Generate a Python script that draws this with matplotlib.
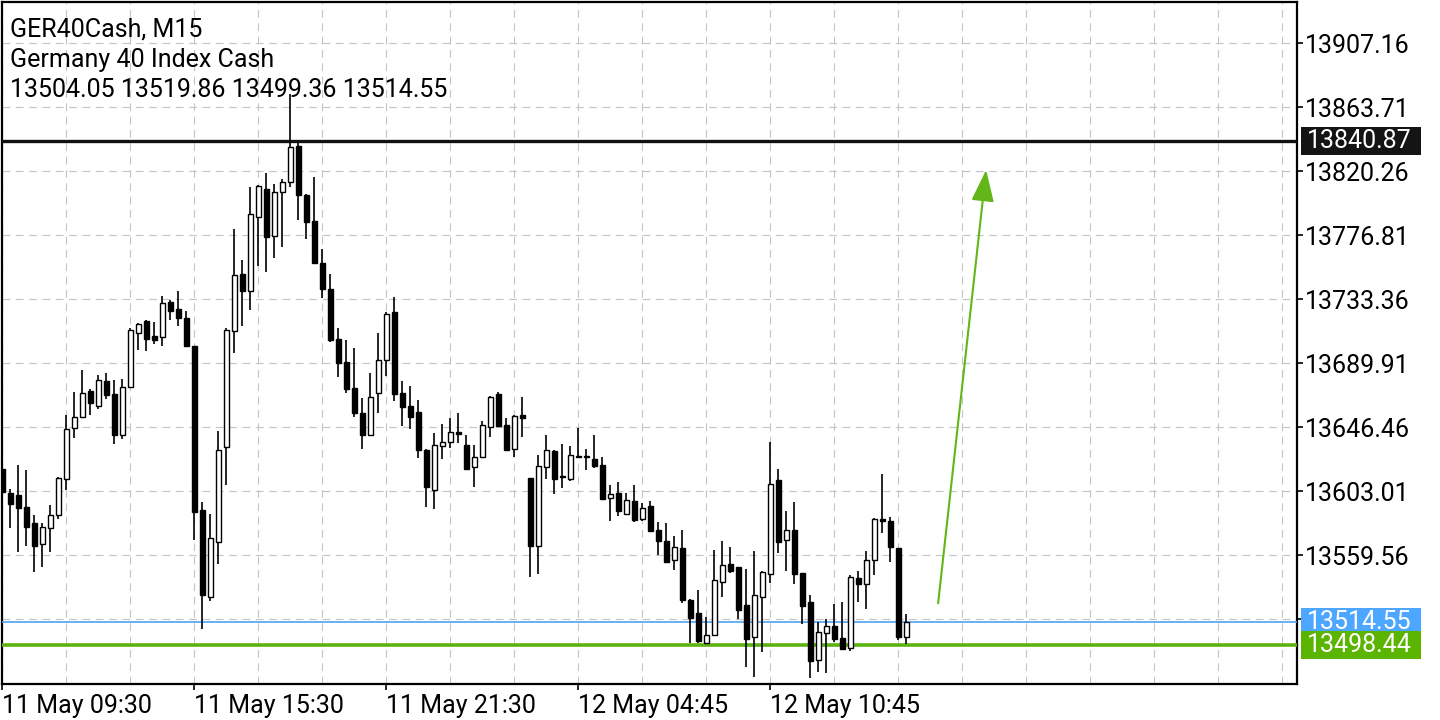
import matplotlib
matplotlib.use("Agg")
import matplotlib.pyplot as plt
from matplotlib.patches import Rectangle
import numpy as np

plt.rcParams["font.family"] = ["Roboto", "DejaVu Sans"]

# GER40Cash M15 candles (open, high, low, close)
opens = [13618.2, 13601.7, 13600.3, 13592.2, 13581.3, 13567.0, 13577.9, 13586.7, 13611.2, 13646.0,
         13653.7, 13670.9, 13661.1, 13677.7, 13668.9, 13641.0, 13673.8, 13710.3, 13718.4, 13708.4,
         13707.7, 13731.5, 13727.1, 13720.5, 13701.6, 13590.1, 13531.4, 13568.5, 13633.2, 13711.6,
         13750.3, 13739.2, 13789.4, 13808.0, 13776.1, 13806.3, 13812.7, 13837.4, 13804.2, 13786.5,
         13757.8, 13740.2, 13706.2, 13690.8, 13672.9, 13656.0, 13641.0, 13669.5, 13692.0, 13724.5,
         13669.5, 13660.9, 13656.6, 13631.3, 13603.7, 13634.0, 13636.7, 13643.5, 13634.2, 13619.3,
         13626.5, 13646.9, 13668.9, 13647.8, 13631.5, 13655.0, 13611.8, 13565.9, 13619.7, 13630.6,
         13613.2, 13611.6, 13627.2, 13626.8, 13625.2, 13620.9, 13598.5, 13601.9, 13587.4, 13596.4,
         13584.4, 13592.8, 13576.5, 13569.3, 13556.2, 13564.5, 13529.2, 13520.4, 13500.2, 13505.7,
         13541.2, 13553.5, 13551.4, 13525.6, 13504.1, 13531.1, 13546.9, 13610.5, 13570.0, 13576.7,
         13547.3, 13527.7, 13488.5, 13506.6, 13511.4, 13503.2, 13496.4, 13544.0, 13539.9, 13556.4,
         13584.2, 13582.6, 13564.5, 13504.05]
highs = [13620.2, 13604.4, 13620.7, 13617.3, 13586.7, 13581.3, 13593.5, 13612.9, 13654.6, 13670.2,
         13685.4, 13672.5, 13681.8, 13683.1, 13678.6, 13679.1, 13713.7, 13717.5, 13719.0, 13717.9,
         13735.5, 13732.6, 13738.7, 13725.2, 13701.9, 13595.7, 13587.4, 13643.9, 13713.7, 13781.4,
         13759.8, 13809.5, 13811.2, 13819.2, 13811.9, 13814.8, 13873.0, 13839.3, 13805.1, 13816.6,
         13767.7, 13750.5, 13713.7, 13705.5, 13700.1, 13666.2, 13683.1, 13710.5, 13724.5, 13734.7,
         13677.7, 13674.3, 13664.8, 13631.5, 13642.4, 13648.5, 13652.6, 13656.0, 13641.0, 13634.2,
         13650.5, 13667.7, 13670.2, 13652.6, 13655.0, 13666.8, 13611.8, 13627.5, 13641.0, 13631.1,
         13635.1, 13633.6, 13645.8, 13631.5, 13641.2, 13626.1, 13607.1, 13609.3, 13601.7, 13607.3,
         13594.9, 13596.4, 13582.2, 13581.3, 13572.7, 13576.7, 13529.9, 13535.8, 13517.7, 13563.2,
         13569.3, 13565.2, 13551.6, 13550.3, 13562.5, 13548.9, 13636.5, 13618.2, 13589.6, 13595.8,
         13547.3, 13532.6, 13514.3, 13516.1, 13526.5, 13527.9, 13546.2, 13548.9, 13562.5, 13585.0,
         13614.8, 13585.4, 13564.5, 13519.86]
lows = [13597.1, 13577.9, 13561.6, 13566.1, 13548.4, 13551.4, 13561.6, 13584.0, 13604.1, 13639.4,
        13652.6, 13655.0, 13659.1, 13665.9, 13634.9, 13638.7, 13673.8, 13698.7, 13698.1, 13703.0,
        13701.9, 13719.0, 13715.0, 13701.9, 13570.2, 13509.3, 13528.7, 13553.9, 13607.6, 13697.2,
        13715.4, 13725.8, 13755.7, 13752.0, 13761.7, 13768.8, 13809.5, 13786.9, 13774.0, 13757.8,
        13734.5, 13704.4, 13680.8, 13670.0, 13653.3, 13631.5, 13641.0, 13656.0, 13681.5, 13664.5,
        13647.4, 13645.5, 13625.8, 13592.6, 13591.2, 13625.2, 13632.6, 13636.0, 13617.5, 13606.1,
        13626.5, 13640.1, 13647.6, 13631.3, 13626.5, 13640.1, 13544.6, 13546.7, 13611.2, 13601.0,
        13605.5, 13609.8, 13626.1, 13617.3, 13618.6, 13597.6, 13583.1, 13586.5, 13587.4, 13582.4,
        13583.1, 13575.9, 13560.0, 13555.2, 13549.8, 13527.4, 13499.8, 13500.2, 13500.2, 13504.8,
        13531.1, 13547.3, 13516.3, 13483.9, 13477.2, 13494.1, 13541.0, 13561.3, 13549.1, 13540.3,
        13513.1, 13476.3, 13480.5, 13479.5, 13500.7, 13495.8, 13494.4, 13528.1, 13523.3, 13546.4,
        13574.9, 13555.2, 13501.9, 13499.36]
closes = [13602.3, 13594.2, 13591.5, 13579.0, 13566.1, 13579.0, 13587.1, 13612.0, 13645.5, 13653.7,
          13670.0, 13662.8, 13678.4, 13668.2, 13641.0, 13674.0, 13712.5, 13716.8, 13706.2, 13705.7,
          13730.7, 13725.6, 13720.7, 13701.9, 13588.9, 13532.9, 13571.4, 13630.8, 13712.3, 13749.6,
          13739.2, 13791.1, 13810.2, 13775.6, 13806.3, 13813.1, 13836.7, 13803.9, 13785.7, 13757.8,
          13740.6, 13705.5, 13689.9, 13672.7, 13656.0, 13641.0, 13667.2, 13692.4, 13723.4, 13669.3,
          13660.4, 13653.7, 13631.3, 13606.1, 13634.2, 13636.7, 13643.5, 13641.7, 13618.2, 13626.5,
          13647.8, 13666.8, 13647.6, 13631.3, 13654.1, 13652.6, 13566.1, 13620.0, 13630.9, 13611.6,
          13612.5, 13627.9, 13626.1, 13626.1, 13620.4, 13597.6, 13601.4, 13589.4, 13596.9, 13583.5,
          13591.9, 13575.9, 13569.1, 13555.2, 13565.2, 13529.2, 13517.2, 13501.6, 13505.3, 13542.6,
          13552.8, 13549.1, 13522.6, 13503.0, 13532.4, 13548.2, 13607.8, 13568.8, 13576.7, 13546.7,
          13525.4, 13488.0, 13507.3, 13511.4, 13503.0, 13495.8, 13544.6, 13539.9, 13556.6, 13584.4,
          13582.9, 13565.0, 13504.3, 13514.55]

price_ticks = [13907.16, 13863.71, 13820.26, 13776.81, 13733.36, 13689.91,
               13646.46, 13603.01, 13559.56, 13516.11]
date_ticks = [0, 24, 48, 72, 96]
date_labels = ["11 May 09:30", "11 May 15:30", "11 May 21:30", "12 May 04:45", "12 May 10:45"]

resistance = 13840.87
bid = 13514.55
support = 13498.44
arrow_from = (117.0, 13527.0)   # bar index, price
arrow_to = (123.0, 13821.2)

header = ["GER40Cash, M15", "Germany 40 Index Cash",
          "13504.05 13519.86 13499.36 13514.55"]

GREEN = "#5cb30f"
BLUE = "#4da6ff"
FS = 18

fig = plt.figure(figsize=(14.4, 7.2), dpi=100)
ax = fig.add_axes([2 / 1440, 36 / 720, 1295 / 1440, 682 / 720])

x = np.arange(len(opens))
o = np.array(opens)
c = np.array(closes)
up = c > o

ax.vlines(x, lows, highs, color="black", linewidth=1.2, zorder=4)
body_h = np.maximum(np.abs(c - o), 0.4)
ax.bar(x, body_h, bottom=np.minimum(o, c), width=0.6,
       color=np.where(up, "white", "black"), edgecolor="black",
       linewidth=1.0, zorder=5)

ax.axhline(resistance, color="#111111", linewidth=2.4, zorder=3)
ax.axhline(bid, color="#4ea3f0", linewidth=1.2, zorder=3)
ax.axhline(support, color=GREEN, linewidth=2.6, zorder=3)

ax.annotate("", xy=arrow_to, xytext=arrow_from,
            arrowprops=dict(arrowstyle="-|>,head_length=1.4,head_width=0.5",
                            mutation_scale=14, color="#62b617", lw=1.5,
                            shrinkA=0, shrinkB=0), zorder=6)

ax.set_xlim(-0.05, 161.87)
ax.set_ylim(13472.18, 13935.2)

# the lowest grid level sits under the bid tag, so its label is left empty
ax.yaxis.tick_right()
ax.set_yticks(price_ticks)
ax.set_yticklabels([f"{p:.2f}" if p > bid + 10 else "" for p in price_ticks])
ax.tick_params(axis="y", length=4, width=1.2, pad=2, labelsize=FS, direction="out")

ax.set_xticks(date_ticks)
ax.set_xticklabels(date_labels)
for lbl in ax.get_xticklabels():
    lbl.set_horizontalalignment("left")
ax.set_xticks(np.arange(0, 162, 8), minor=True)
ax.tick_params(axis="x", which="major", length=4, width=1.2, pad=3, labelsize=FS)
ax.tick_params(axis="x", which="minor", length=0)

ax.grid(True, which="both", color="#c4c4c4", linestyle=(0, (7, 5)), linewidth=0.8, zorder=0)
ax.set_axisbelow(True)
for s in ax.spines.values():
    s.set_linewidth(1.6)

# header lines
for k, line in enumerate(header):
    ax.text(0.0062, 1 - (27 + 30.5 * k) / 682, line, transform=ax.transAxes,
            fontsize=FS, va="center", ha="left", color="black", zorder=7)

# price tags on the right
ytr = ax.get_yaxis_transform()
px = 0.678906  # price per pixel
for level, col in [(resistance, "#141414"), (bid, BLUE), (support, "#5ab400")]:
    ax.add_patch(Rectangle((1.0031, level - 14 * px), 120 / 1295, 28 * px,
                           transform=ytr, facecolor=col, edgecolor="none",
                           clip_on=False, zorder=8))
    ax.text(1.0075, level, f"{level:.2f}", transform=ytr, color="white",
            fontsize=FS, va="center", ha="left", clip_on=False, zorder=9)

fig.savefig("out.png", dpi=100)
